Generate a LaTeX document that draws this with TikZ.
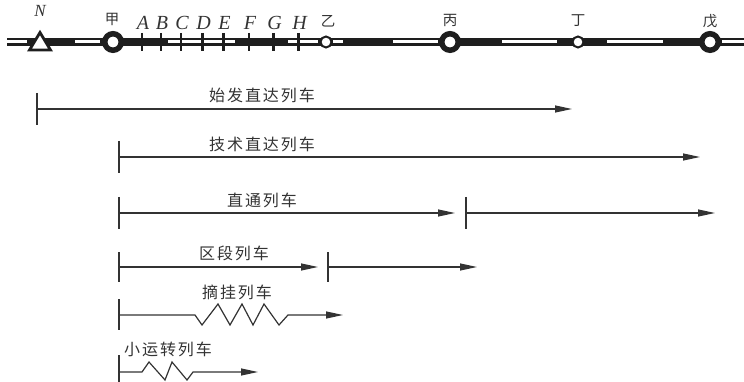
\documentclass[tikz,border=0pt]{standalone}
\usepackage{fontspec}
\newfontfamily\cjk{Noto Sans CJK SC}
\newfontfamily\cjksp{Noto Sans CJK SC}[LetterSpace=12]
\newfontfamily\tms{Liberation Serif}
\usetikzlibrary{arrows.meta,calc}
\definecolor{ink}{HTML}{1E1E1E}
\definecolor{ink2}{HTML}{333333}
\tikzset{
  track/.style={line width=7.5pt, draw=ink},
  hollow/.style={line width=3pt, draw=white},
  kmpost/.style={line width=2.4pt, draw=ink},
  bigst/.style={circle, draw=ink, line width=5.5pt, fill=white, minimum size=16.5pt, inner sep=0pt},
  smst/.style={circle, draw=ink, line width=2pt, fill=white, minimum size=11pt, inner sep=0pt},
  train/.style={draw=ink2, line width=1.2pt, -{Triangle[length=17pt,width=7pt]}},
  starttick/.style={draw=ink2, line width=1.5pt},
  trlabel/.style={font=\cjksp\fontsize{16}{16}\selectfont, text=ink2, inner sep=0pt},
  stlabel/.style={font=\cjk\fontsize{14.5}{14.5}\selectfont, text=ink2, inner sep=0pt},
  ltrlabel/.style={font=\tms\itshape\fontsize{20}{20}\selectfont, text=ink2, inner sep=0pt, anchor=base},
}
\begin{document}
\begin{tikzpicture}[x=1pt,y=-1pt]
\useasboundingbox (0,0) rectangle (744,382);
% ---- track ----
\coordinate (tl) at (7,42);
\coordinate (tr) at (744,42);
\draw[track] (tl) -- (tr);
\foreach \a/\b in {7/27,75/100,168/235,288/318,333/343,393/438,502/557,607/663,722/744}{
  \draw[hollow] (\a,42) -- (\b,42);
}
% km posts
\foreach \n/\x in {A/142,B/161,C/181,D/202.5,E/223.5,F/249,G/273.5,H/298.5}{
  \coordinate (p\n) at (\x,42);
  \draw[kmpost] ($(p\n)+(0,-9)$) -- ($(p\n)+(0,9)$);
  \node[ltrlabel] (l\n) at (\x+1,30) {\n};
}
% N station (triangle)
\coordinate (Nst) at (40,42);
\draw[ink, line width=2.8pt, fill=white] ($(Nst)+(0,-9.5)$) -- ($(Nst)+(10.5,8)$) -- ($(Nst)+(-10.5,8)$) -- cycle;
\node[font=\tms\itshape\fontsize{17}{17}\selectfont, text=ink2, inner sep=0pt, anchor=base] (lN) at (40,17) {N};
% stations
\node[bigst] (jia) at (113,42) {};
\node[smst] (yi) at (326,42) {};
\node[bigst] (bing) at (450,42) {};
\node[smst] (ding) at (578,42) {};
\node[bigst] (wu) at (710,42) {};
\node[stlabel] (ljia) at (112,19) {甲};
\node[stlabel] (lyi) at (328,21) {乙};
\node[stlabel] (lbing) at (450,20) {丙};
\node[stlabel] (lding) at (578,21) {丁};
\node[stlabel] (lwu) at (710,21) {戊};
% ---- trains ----
% 1 始发直达列车
\coordinate (s1) at (37,109); \coordinate (e1) at (572,109);
\draw[starttick] ($(s1)+(0,-16)$) -- ($(s1)+(0,16)$);
\draw[train] (s1) -- (e1);
\node[trlabel] (t1) at (262,95) {始发直达列车};
% 2 技术直达列车
\coordinate (s2) at (119,157); \coordinate (e2) at (700,157);
\draw[starttick] ($(s2)+(0,-16)$) -- ($(s2)+(0,16)$);
\draw[train] (s2) -- (e2);
\node[trlabel] (t2) at (262,144) {技术直达列车};
% 3 直通列车
\coordinate (s3) at (119,213); \coordinate (e3) at (455,213);
\coordinate (s3b) at (466,213); \coordinate (e3b) at (715,213);
\draw[starttick] ($(s3)+(0,-16)$) -- ($(s3)+(0,16)$);
\draw[train] (s3) -- (e3);
\draw[starttick] ($(s3b)+(0,-16)$) -- ($(s3b)+(0,16)$);
\draw[train] (s3b) -- (e3b);
\node[trlabel] (t3) at (262,200) {直通列车};
% 4 区段列车
\coordinate (s4) at (119,267); \coordinate (e4) at (318,267);
\coordinate (s4b) at (328,267); \coordinate (e4b) at (477,267);
\draw[starttick] ($(s4)+(0,-15)$) -- ($(s4)+(0,15)$);
\draw[train] (s4) -- (e4);
\draw[starttick] ($(s4b)+(0,-15)$) -- ($(s4b)+(0,15)$);
\draw[train] (s4b) -- (e4b);
\node[trlabel] (t4) at (234,253) {区段列车};
% 5 摘挂列车
\coordinate (s5) at (119,315); \coordinate (e5) at (343,315);
\draw[starttick] ($(s5)+(0,-16)$) -- ($(s5)+(0,15)$);
\draw[train, line join=miter] (s5) -- (195,315) -- (202,325) -- (218,304) -- (230,325) -- (242,304) -- (253,325) -- (264,304) -- (279,325) -- (288,315) -- (e5);
\node[trlabel] (t5) at (237,292) {摘挂列车};
% 6 小运转列车
\coordinate (s6) at (119,372); \coordinate (e6) at (258,372);
\draw[starttick] ($(s6)+(0,-17)$) -- ($(s6)+(0,12)$);
\draw[train, line join=miter] (s6) -- (142,372) -- (149,362) -- (165,380) -- (172,362) -- (187,380) -- (193,372) -- (e6);
\node[trlabel] (t6) at (168,349) {小运转列车};
\end{tikzpicture}
\end{document}
